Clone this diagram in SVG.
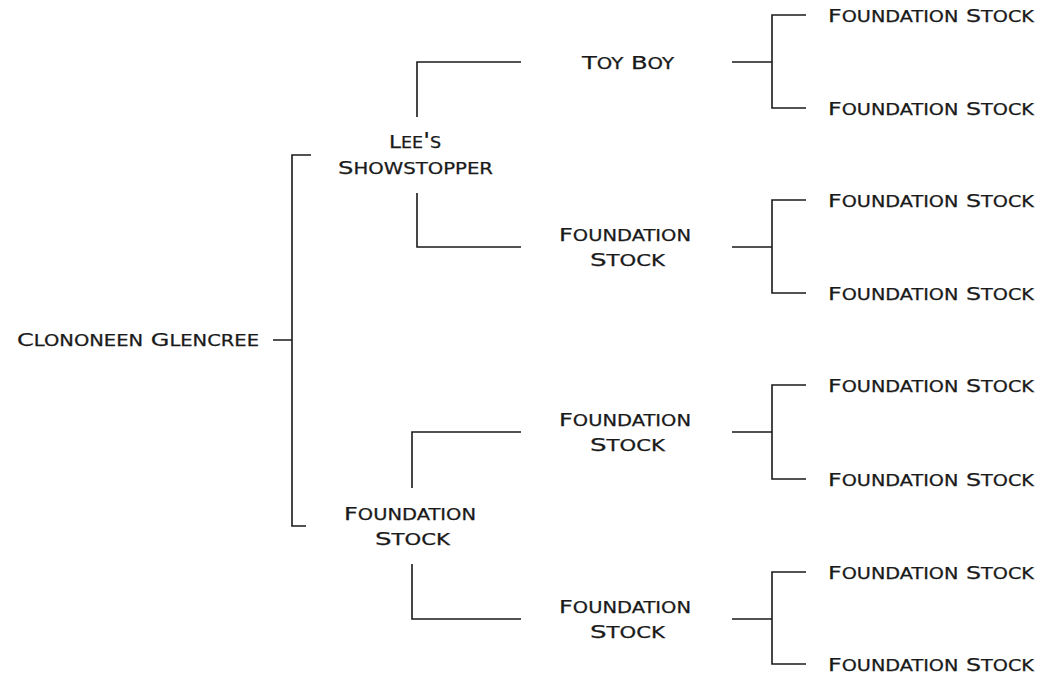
<svg xmlns="http://www.w3.org/2000/svg" width="1040" height="677" viewBox="0 0 1040 677">
<style>
text{font-family:"DejaVu Sans","Liberation Sans",sans-serif;font-size:18.5px;font-variant:small-caps;fill:#1a1a1a;stroke:#1a1a1a;stroke-width:0.25}
.l{font-size:21px}
.c path{fill:none;stroke:#1a1a1a;stroke-width:1.6}
</style>
<rect width="1040" height="677" fill="#fff"/>
<g class="c" id="connectors">
<path d="M273 340H292M311 155H292V526H306"/>
<path d="M521 62H417V117M417 193V247H521"/>
<path d="M521 432H412V488M412 564V619H521"/>
<path d="M732 62H772M806 15H772V108H806"/>
<path d="M732 247H772M806 200H772V293H806"/>
<path d="M732 432H772M806 385H772V479H806"/>
<path d="M732 619H772M806 572H772V664H806"/>
</g>
<g id="n0"><text x="17" y="346" textLength="242" lengthAdjust="spacingAndGlyphs">C<tspan class="l">lononeen</tspan> G<tspan class="l">lencree</tspan></text></g>
<g id="n1"><text x="389" y="148" textLength="52" lengthAdjust="spacingAndGlyphs">L<tspan class="l">ee's</tspan></text><text x="338" y="174" textLength="155" lengthAdjust="spacingAndGlyphs">S<tspan class="l">howstopper</tspan></text></g>
<g id="n2"><text x="344" y="520" textLength="132" lengthAdjust="spacingAndGlyphs">F<tspan class="l">oundation</tspan></text><text x="375" y="545" textLength="75" lengthAdjust="spacingAndGlyphs">S<tspan class="l">tock</tspan></text></g>
<g id="n3"><text x="582" y="69" textLength="92" lengthAdjust="spacingAndGlyphs">T<tspan class="l">oy</tspan> B<tspan class="l">oy</tspan></text></g>
<g id="n4"><text x="559" y="241" textLength="132" lengthAdjust="spacingAndGlyphs">F<tspan class="l">oundation</tspan></text><text x="590" y="266" textLength="75" lengthAdjust="spacingAndGlyphs">S<tspan class="l">tock</tspan></text></g>
<g id="n5"><text x="559" y="426" textLength="132" lengthAdjust="spacingAndGlyphs">F<tspan class="l">oundation</tspan></text><text x="590" y="451" textLength="75" lengthAdjust="spacingAndGlyphs">S<tspan class="l">tock</tspan></text></g>
<g id="n6"><text x="559" y="613" textLength="132" lengthAdjust="spacingAndGlyphs">F<tspan class="l">oundation</tspan></text><text x="590" y="638" textLength="75" lengthAdjust="spacingAndGlyphs">S<tspan class="l">tock</tspan></text></g>
<g id="n7"><text x="828" y="22" textLength="206" lengthAdjust="spacingAndGlyphs">F<tspan class="l">oundation</tspan> S<tspan class="l">tock</tspan></text></g>
<g id="n8"><text x="828" y="115" textLength="206" lengthAdjust="spacingAndGlyphs">F<tspan class="l">oundation</tspan> S<tspan class="l">tock</tspan></text></g>
<g id="n9"><text x="828" y="207" textLength="206" lengthAdjust="spacingAndGlyphs">F<tspan class="l">oundation</tspan> S<tspan class="l">tock</tspan></text></g>
<g id="n10"><text x="828" y="300" textLength="206" lengthAdjust="spacingAndGlyphs">F<tspan class="l">oundation</tspan> S<tspan class="l">tock</tspan></text></g>
<g id="n11"><text x="828" y="392" textLength="206" lengthAdjust="spacingAndGlyphs">F<tspan class="l">oundation</tspan> S<tspan class="l">tock</tspan></text></g>
<g id="n12"><text x="828" y="486" textLength="206" lengthAdjust="spacingAndGlyphs">F<tspan class="l">oundation</tspan> S<tspan class="l">tock</tspan></text></g>
<g id="n13"><text x="828" y="579" textLength="206" lengthAdjust="spacingAndGlyphs">F<tspan class="l">oundation</tspan> S<tspan class="l">tock</tspan></text></g>
<g id="n14"><text x="828" y="671" textLength="206" lengthAdjust="spacingAndGlyphs">F<tspan class="l">oundation</tspan> S<tspan class="l">tock</tspan></text></g>
</svg>
